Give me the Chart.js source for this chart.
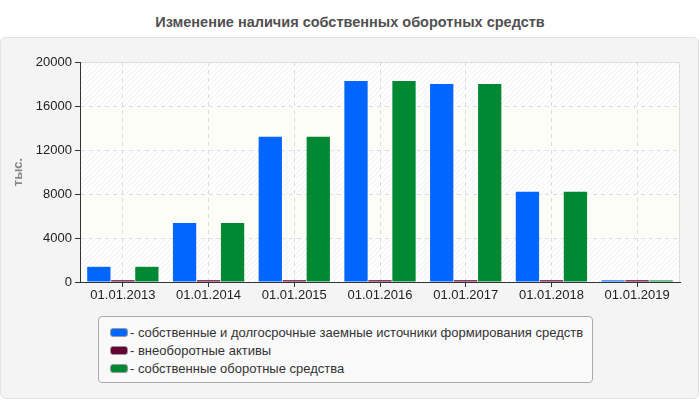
<!DOCTYPE html>
<html lang="ru">
<head>
<meta charset="utf-8">
<title>Изменение наличия собственных оборотных средств</title>
<script src="https://cdn.jsdelivr.net/npm/chart.js@4.4.1/dist/chart.umd.min.js"></script>
<style>
  html, body { margin: 0; padding: 0; background: #fff; }
  body { width: 700px; height: 400px; position: relative; overflow: hidden;
         font-family: "Liberation Sans", Arial, sans-serif; }
  .title { position: absolute; left: 0; top: 14px; width: 700px; text-align: center;
           font-size: 14.5px; font-weight: bold; color: #505050; }
  .panel { position: absolute; left: 0; top: 37px; width: 697px; height: 360px;
           background: #f4f4f4; border: 1px solid #e2e2e2; border-radius: 6px; }
  #chart { position: absolute; left: 0; top: 0; }
  .legend { position: absolute; left: 98px; top: 316px; width: 493px; height: 65px;
            background: #f9f9f9; border: 1px solid #aaa; border-radius: 4px; }
  .legend-row { position: absolute; left: 11px; font-size: 13px; color: #333; line-height: 15px;
                white-space: nowrap; }
  .legend-box { display: inline-block; width: 16px; height: 7px; border: 1px solid #999;
                border-radius: 3px; vertical-align: middle; margin-right: 2px; position: relative; top: -1px; }
</style>
</head>
<body>
<div class="title">Изменение наличия собственных оборотных средств</div>
<div class="panel"></div>
<canvas id="chart" width="700" height="400"></canvas>
<div class="legend" id="legend"></div>
<script>
/* ─── Data ───────────────────────────────────────────────── */
const categories = ['01.01.2013', '01.01.2014', '01.01.2015', '01.01.2016', '01.01.2017', '01.01.2018', '01.01.2019'];
const seriesNames = [
  'собственные и долгосрочные заемные источники формирования средств',
  'внеоборотные активы',
  'собственные оборотные средства'
];
const ownAndLongTerm = [1380, 5370, 13200, 18270, 18000, 8200, 150];
const nonCurrent     = [160, 160, 160, 160, 160, 160, 160];
const ownWorking     = [1380, 5370, 13200, 18270, 18000, 8200, 140];
const seriesColors   = ['#0066ff', '#660033', '#008833'];
const yTicks = [0, 4000, 8000, 12000, 16000, 20000];

/* ─── Plot background: alternating bands + hatch ─────────── */
function makeHatch(ctx) {
  const c = document.createElement('canvas');
  c.width = 5; c.height = 5;
  const p = c.getContext('2d');
  p.fillStyle = '#ffffff';
  p.fillRect(0, 0, 5, 5);
  p.strokeStyle = '#eeeeee';
  p.lineWidth = 1;
  p.beginPath();
  p.moveTo(0, 5); p.lineTo(5, 0);
  p.stroke();
  return ctx.createPattern(c, 'repeat');
}

const plotBg = {
  id: 'plotBg',
  beforeDraw(chart) {
    const { ctx, chartArea: a, scales: { y } } = chart;
    ctx.save();
    const hatch = makeHatch(ctx);
    for (let i = 0; i < yTicks.length - 1; i++) {
      const top = y.getPixelForValue(yTicks[i + 1]);
      const bot = y.getPixelForValue(yTicks[i]);
      ctx.fillStyle = i % 2 === 0 ? hatch : '#fdfdf8';
      ctx.fillRect(a.left, top, a.right - a.left, bot - top);
    }
    ctx.strokeStyle = '#dddddd';
    ctx.lineWidth = 1;
    ctx.beginPath();
    ctx.moveTo(a.left, a.top + 0.5);
    ctx.lineTo(a.right - 0.5, a.top + 0.5);
    ctx.lineTo(a.right - 0.5, a.bottom);
    ctx.stroke();
    ctx.restore();
  }
};

/* ─── Chart ──────────────────────────────────────────────── */
const values = [ownAndLongTerm, nonCurrent, ownWorking];
const tickFont = { family: 'Liberation Sans', size: 13 };
const chart = new Chart(document.getElementById('chart'), {
  type: 'bar',
  data: {
    labels: categories,
    datasets: seriesNames.map((name, i) => ({
      label: name,
      data: values[i],
      backgroundColor: seriesColors[i],
      borderWidth: 0,
      categoryPercentage: 0.84,
      barPercentage: 0.97
    }))
  },
  options: {
    responsive: false,
    animation: false,
    layout: { padding: { left: 0, top: 62, right: 20, bottom: 100 } },
    plugins: {
      legend: { display: false },
      title: { display: false },
      tooltip: { enabled: false }
    },
    scales: {
      x: {
        afterFit: s => { s.height = 18; },
        grid: {
          offset: false,
          color: '#dddddd',
          tickColor: '#333333',
          tickBorderDash: [],
          tickLength: 5
        },
        border: { color: '#333333', width: 1, dash: [4, 4] },
        ticks: { color: '#222', font: tickFont, padding: 1 }
      },
      y: {
        min: 0,
        max: 20000,
        afterFit: s => { s.width = 80; },
        afterBuildTicks: s => { s.ticks = yTicks.map(v => ({ value: v })); },
        grid: {
          color: '#dddddd',
          tickColor: '#333333',
          tickBorderDash: [],
          tickLength: 5
        },
        border: { color: '#333333', width: 1, dash: [4, 4] },
        ticks: { color: '#222', font: tickFont, padding: 3, callback: v => String(v) },
        title: {
          display: true,
          text: 'тыс.',
          color: '#888',
          font: { family: 'Liberation Sans', size: 13, weight: 'bold' },
          padding: { top: 11, bottom: 0 }
        }
      }
    }
  },
  plugins: [plotBg]
});

/* ─── Legend ─────────────────────────────────────────────── */
const legend = document.getElementById('legend');
chart.data.datasets.forEach((ds, i) => {
  const row = document.createElement('div');
  row.className = 'legend-row';
  row.style.top = (8 + i * 18) + 'px';
  row.innerHTML = `<span class="legend-box" style="background:${ds.backgroundColor}"></span>- ${ds.label}`;
  legend.appendChild(row);
});
</script>
</body>
</html>
